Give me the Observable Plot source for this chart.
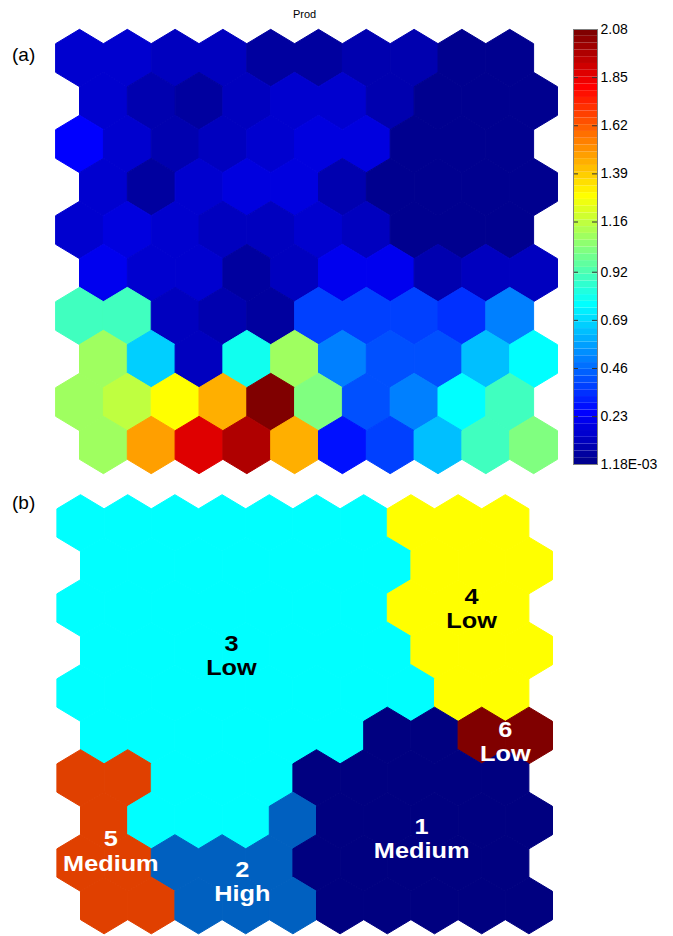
<!DOCTYPE html>
<html><head><meta charset="utf-8">
<script src="https://cdn.jsdelivr.net/npm/d3@7"></script>
<script src="https://cdn.jsdelivr.net/npm/@observablehq/plot@0.6"></script>
<style>
html,body{margin:0;padding:0;background:#fff;}
#root{position:relative;width:673px;height:936px;overflow:hidden;font-family:"Liberation Sans",Arial,Helvetica,sans-serif;color:#000;}
#root > div, #root > svg, #root > figure{position:absolute;margin:0;}
.tag{font-size:19px;line-height:1;}
.title{font-size:11px;line-height:1;}
</style></head><body><div id="root"></div>
<script>
// ---------- DATA ----------
// Panel (a): "Prod" component plane, 10 rows x 10 columns, top row first
const prodRows = [
  [0.16, 0.16, 0.13, 0.10, 0.05, 0.05, 0.07, 0.07, 0.01, 0.01],
  [0.16, 0.08, 0.05, 0.10, 0.15, 0.15, 0.07, 0.01, 0.01, 0.01],
  [0.23, 0.14, 0.07, 0.11, 0.16, 0.19, 0.18, 0.01, 0.01, 0.01],
  [0.15, 0.05, 0.16, 0.17, 0.17, 0.08, 0.01, 0.01, 0.01, 0.01],
  [0.16, 0.17, 0.16, 0.12, 0.12, 0.16, 0.10, 0.01, 0.01, 0.01],
  [0.22, 0.16, 0.15, 0.05, 0.12, 0.20, 0.20, 0.08, 0.10, 0.10],
  [0.89, 0.89, 0.13, 0.07, 0.05, 0.39, 0.39, 0.36, 0.33, 0.52],
  [1.10, 0.67, 0.13, 0.81, 1.10, 0.49, 0.42, 0.42, 0.62, 0.75],
  [1.09, 1.14, 1.27, 1.46, 2.08, 1.01, 0.42, 0.52, 0.75, 0.89],
  [1.09, 1.49, 1.88, 1.98, 1.46, 0.29, 0.39, 0.62, 0.91, 1.04]
];
const prodMin = 0.00118;
const prodMax = 2.08;
const colorbarTickValues = [0.00118, 0.23, 0.46, 0.69, 0.92, 1.16, 1.39, 1.62, 1.85, 2.08];
const colorbarTickLabels = ["1.18E-03", "0.23", "0.46", "0.69", "0.92", "1.16", "1.39", "1.62", "1.85", "2.08"];
const panelTitle = "Prod";

// Panel (b): cluster membership of each map unit, top row first
const clusterRows = [
  [3, 3, 3, 3, 3, 3, 3, 4, 4, 4],
  [3, 3, 3, 3, 3, 3, 3, 4, 4, 4],
  [3, 3, 3, 3, 3, 3, 3, 4, 4, 4],
  [3, 3, 3, 3, 3, 3, 3, 4, 4, 4],
  [3, 3, 3, 3, 3, 3, 3, 3, 4, 4],
  [3, 3, 3, 3, 3, 3, 1, 1, 6, 6],
  [5, 5, 3, 3, 3, 1, 1, 1, 1, 1],
  [5, 3, 3, 3, 2, 1, 1, 1, 1, 1],
  [5, 5, 2, 2, 2, 1, 1, 1, 1, 1],
  [5, 5, 2, 2, 2, 1, 1, 1, 1, 1]
];
const clusterIds = [1, 2, 3, 4, 5, 6];
const clusterLevels = ["Medium", "High", "Low", "Low", "Medium", "Low"];

// ---------- STYLE ----------
const clusterColors = ["#000080", "#0060C0", "#00FFFF", "#FFFF00", "#E04000", "#800000"];
const FONT = '"Liberation Sans", Arial, Helvetica, sans-serif';

// MATLAB jet(m) colormap
function jetTable(m) {
  const n = Math.ceil(m / 4);
  const u = [...d3.range(1, n + 1).map(i => i / n), ...Array(n - 1).fill(1), ...d3.range(n, 0, -1).map(i => i / n)];
  const g0 = Math.ceil(n / 2) - (m % 4 === 1 ? 1 : 0);
  const R = Array(m).fill(0), G = Array(m).fill(0), B = Array(m).fill(0);
  u.forEach((val, k) => {
    const gi = g0 + k + 1, ri = gi + n, bi = gi - n;
    if (gi >= 1 && gi <= m) G[gi - 1] = val;
    if (ri >= 1 && ri <= m) R[ri - 1] = val;
    if (bi >= 1 && bi <= m) B[bi - 1] = val;
  });
  return d3.range(m).map(i => d3.rgb(R[i] * 255, G[i] * 255, B[i] * 255).formatHex());
}
const JET = jetTable(64);
const jetInterp = t => JET[Math.max(0, Math.min(63, Math.floor(t * 64)))];

// pointy-top hexagon symbol sized to tile the lattice
function hexSymbol(halfWidth, radiusY) {
  return {
    draw(ctx) {
      ctx.moveTo(0, -radiusY);
      ctx.lineTo(halfWidth, -radiusY / 2);
      ctx.lineTo(halfWidth, radiusY / 2);
      ctx.lineTo(0, radiusY);
      ctx.lineTo(-halfWidth, radiusY / 2);
      ctx.lineTo(-halfWidth, -radiusY / 2);
      ctx.closePath();
    }
  };
}

const root = document.getElementById("root");
function place(node, left, top, id) {
  node.style.position = "absolute";
  node.style.left = left + "px";
  node.style.top = top + "px";
  if (id) node.id = id;
  root.appendChild(node);
  return node;
}
function textDiv(txt, cls, left, top) {
  const d = document.createElement("div");
  d.className = cls;
  d.textContent = txt;
  return place(d, left, top);
}

// ---------- PANEL (a) ----------
const cellsA = prodRows.flatMap((row, r) => row.map((v, c) => ({r, c, x: c + (r % 2) * 0.5, v})));
const xRangeA = [79, 533.1], yRangeA = [57.5, 444.5];
const hwA = (xRangeA[1] - xRangeA[0]) / 9.5 / 2;
const ryA = (yRangeA[1] - yRangeA[0]) / 9 * 2 / 3;
const colorA = {type: "linear", domain: [prodMin, prodMax], interpolate: jetInterp};

const plotA = Plot.plot({
  width: 565, height: 480,
  marginTop: 0, marginRight: 0, marginBottom: 0, marginLeft: 0,
  style: {background: "transparent", fontFamily: FONT},
  x: {domain: [0, 9.5], range: xRangeA, axis: null},
  y: {domain: [0, 9], range: yRangeA, axis: null},
  color: colorA,
  marks: [
    Plot.dot(cellsA, {x: "x", y: "r", fill: "v", stroke: "v", strokeWidth: 1, symbol: hexSymbol(hwA, ryA)})
  ]
});
place(plotA, 0, 0, "panelA");

// colorbar
const step = (prodMax - prodMin) / 64;
const bands = d3.range(64).map(k => ({lo: prodMin + k * step, hi: prodMin + (k + 1) * step, mid: prodMin + (k + 0.5) * step}));
const tickData = colorbarTickValues.map((v, i) => ({v, label: colorbarTickLabels[i]}));
const plotBar = Plot.plot({
  width: 108, height: 480,
  marginTop: 29, marginBottom: 16, marginLeft: 8, marginRight: 76,
  style: {background: "transparent", fontFamily: FONT, fontSize: "14px", overflow: "visible"},
  x: {domain: [0, 1], axis: null},
  y: {domain: [prodMin, prodMax], axis: null},
  color: colorA,
  marks: [
    Plot.rect(bands, {y1: "lo", y2: "hi", fill: "mid"}),
    Plot.ruleY(tickData, {y: "v", stroke: "#333", strokeWidth: 1, insetRight: 19}),
    Plot.ruleY(tickData, {y: "v", stroke: "#333", strokeWidth: 1, insetLeft: 19}),
    Plot.frame({stroke: "#7f7f7f", strokeWidth: 1}),
    Plot.text(tickData, {y: "v", text: "label", frameAnchor: "right", textAnchor: "start", dx: 3, fill: "#000", fontSize: 14})
  ]
});
place(plotBar, 565, 0, "colorbar");

textDiv(panelTitle, "title", 293, 9);
textDiv("(a)", "tag", 12, 45);

// ---------- PANEL (b) ----------
const cellsB = clusterRows.flatMap((row, r) => row.map((k, c) => ({r, c, x: c + (r % 2) * 0.5, k})));
const xRangeB = [80, 528.4], yRangeB = [42.5, 425];
const hwB = (xRangeB[1] - xRangeB[0]) / 9.5 / 2;
const ryB = (yRangeB[1] - yRangeB[0]) / 9 * 2 / 3;
const centroids = clusterIds.map((id, i) => {
  const cs = cellsB.filter(d => d.k === id);
  return {id, text: `${id}\n${clusterLevels[i]}`, x: d3.mean(cs, d => d.x), y: d3.mean(cs, d => d.r)};
});
const colorOf = new Map(clusterIds.map((id, i) => [id, clusterColors[i]]));
const isLight = d => d3.lab(colorOf.get(d.id)).l > 60;

const labelStyle = {x: "x", y: "y", text: "text", fontSize: 22, fontWeight: "bold", lineHeight: 1.1, textAnchor: "middle", dy: 6};
const plotB = Plot.plot({
  width: 565, height: 456,
  marginTop: 0, marginRight: 0, marginBottom: 0, marginLeft: 0,
  style: {background: "transparent", fontFamily: FONT},
  x: {domain: [0, 9.5], range: xRangeB, axis: null},
  y: {domain: [0, 9], range: yRangeB, axis: null},
  color: {type: "ordinal", domain: clusterIds, range: clusterColors},
  marks: [
    Plot.dot(cellsB, {x: "x", y: "r", fill: "k", stroke: "k", strokeWidth: 1, symbol: hexSymbol(hwB, ryB)}),
    Plot.text(centroids.filter(isLight), {...labelStyle, fill: "black"}),
    Plot.text(centroids.filter(d => !isLight(d)), {...labelStyle, fill: "white"})
  ]
});
// widen the bold cluster labels horizontally, as in the original figure
plotB.querySelectorAll("text").forEach(t => {
  const tr = t.getAttribute("transform");
  if (tr && /translate/.test(tr)) t.setAttribute("transform", tr + " scale(1.15,1)");
});
place(plotB, 0, 480, "panelB");
textDiv("(b)", "tag", 12, 493);
</script>
</body></html>
